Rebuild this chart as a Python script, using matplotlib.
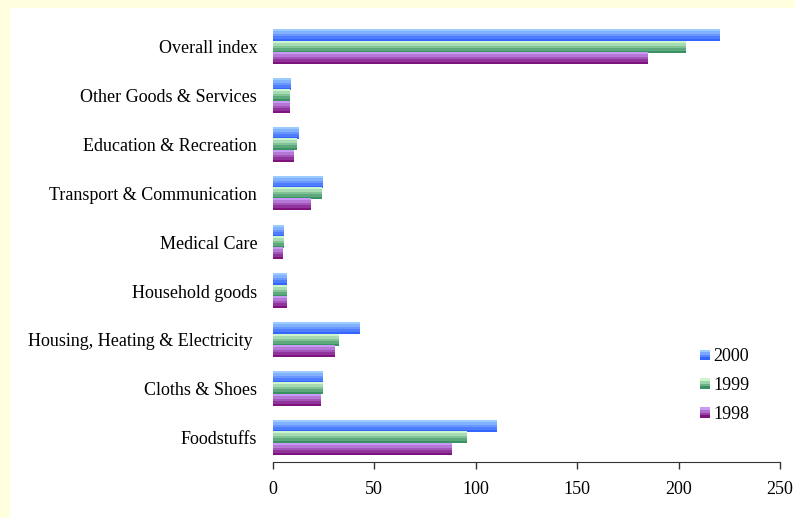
import numpy as np
import matplotlib
matplotlib.use("Agg")
import matplotlib.pyplot as plt
from matplotlib.colors import LinearSegmentedColormap
from matplotlib.legend_handler import HandlerBase
from matplotlib.patches import Rectangle

categories = ["Foodstuffs", "Cloths & Shoes", "Housing, Heating & Electricity ",
              "Household goods", "Medical Care", "Transport & Communication",
              "Education & Recreation", "Other Goods & Services", "Overall index"]
years = ["2000", "1999", "1998"]
values_2000 = [110, 24.3, 42.5, 6.6, 5.2, 24.3, 12.5, 8.6, 220]
values_1999 = [95.5, 24.3, 32.2, 6.6, 5.2, 23.8, 11.5, 8.1, 203]
values_1998 = [87.7, 23.3, 30.2, 6.6, 4.7, 18.4, 10.1, 8.1, 184.3]
xticks = [0, 50, 100, 150, 200, 250]

# top-to-bottom colour ramps for each series
ramps = {
    "2000": ("#9CCBFF", "#3565FF"),
    "1999": ("#CCF5CC", "#3A9163"),
    "1998": ("#C99AF5", "#7E137E"),
}

plt.rcParams["font.family"] = ["Liberation Serif", "DejaVu Serif"]
FS = 13

fig = plt.figure(figsize=(7.95, 5.18), dpi=100)
fig.patch.set_facecolor("white")
# pale yellow frame along the top and left edges
fig.patches.append(Rectangle((0, 1 - 8 / 518), 1, 8 / 518, transform=fig.transFigure,
                             facecolor="#FFFFE0", edgecolor="none", zorder=0))
fig.patches.append(Rectangle((0, 0), 10 / 795, 1, transform=fig.transFigure,
                             facecolor="#FFFFE0", edgecolor="none", zorder=0))

ax = fig.add_axes([272.5 / 795, 1 - 462 / 518, (780 - 272.5) / 795, (462 - 22.5) / 518])

y = np.arange(len(categories))
h = 0.232
series = [("2000", values_2000, h), ("1999", values_1999, 0.0), ("1998", values_1998, -h)]

n_bands = 5
for name, vals, off in series:
    top, bot = ramps[name]
    cmap = LinearSegmentedColormap.from_list(name, [top, bot])
    bars = ax.barh(y + off, vals, height=h, color=bot, edgecolor="none", label=name)
    grad = np.linspace(0, 1, n_bands).reshape(-1, 1)
    for b in bars:
        x0, y0 = b.get_x(), b.get_y()
        ax.imshow(grad, cmap=cmap, aspect="auto", interpolation="nearest",
                  extent=(x0, x0 + b.get_width(), y0, y0 + b.get_height()),
                  origin="upper", zorder=2)

ax.set_xlim(0, 250)
ax.set_ylim(-0.5, len(categories) - 0.5)
ax.set_xticks(xticks)
ax.set_xticklabels([str(t) for t in xticks], fontsize=FS)
ax.set_yticks(y)
ax.set_yticklabels(categories, fontsize=FS)
ax.tick_params(axis="y", length=0, pad=11)
ax.tick_params(axis="x", direction="out", length=5, width=1, color="#333333", pad=9)
for s in ("top", "right", "left"):
    ax.spines[s].set_visible(False)
ax.spines["bottom"].set_color("#333333")


class GradientHandler(HandlerBase):
    def create_artists(self, legend, orig_handle, xdescent, ydescent, width, height,
                       fontsize, trans):
        top, bot = ramps[orig_handle.get_label()]
        cmap = LinearSegmentedColormap.from_list("h", [top, bot])
        side = 7.5
        x0 = -xdescent + (width - side) / 2
        y0 = -ydescent + (height - side) / 2
        arts = []
        k = 4
        for i in range(k):
            c = cmap(i / (k - 1))
            r = Rectangle((x0, y0 + side - (i + 1) * side / k), side, side / k,
                          facecolor=c, edgecolor="none", transform=trans)
            arts.append(r)
        return arts


handles = [Rectangle((0, 0), 1, 1, label=n) for n in years]
ax.legend(handles=handles, labels=years, handler_map={Rectangle: GradientHandler()},
          loc="lower left", bbox_to_anchor=(0.81, 0.052), frameon=False,
          fontsize=FS, handlelength=0.6, handletextpad=0.15, labelspacing=0.66)

fig.savefig("out.png", dpi=100, facecolor=fig.get_facecolor())
